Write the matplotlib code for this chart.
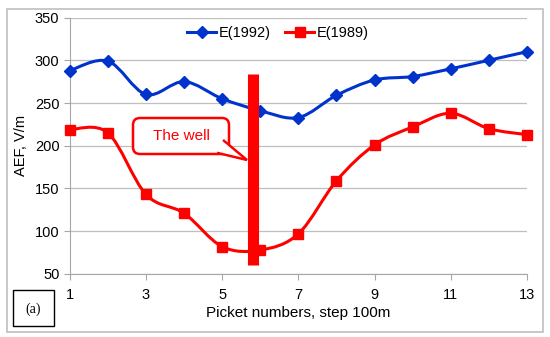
import numpy as np
import matplotlib
matplotlib.use("Agg")
import matplotlib.pyplot as plt
from matplotlib.path import Path
from matplotlib.patches import PathPatch, FancyBboxPatch, Rectangle, Polygon
from matplotlib.lines import Line2D

plt.rcParams['font.family'] = ['Liberation Sans', 'DejaVu Sans']

pickets = [1, 2, 3, 4, 5, 6, 7, 8, 9, 10, 11, 12, 13]
e_1992 = [288, 299, 260, 275, 255, 241, 233, 259, 277, 281, 290, 300, 310]
e_1989 = [219, 215, 143, 121, 82, 78, 97, 159, 201, 222, 238, 220, 213]
well_x = 5.8
well_range = (60, 284)
blue = '#0033cc'
red = '#ff0000'


def smooth_path(xs, ys):
    # excel-style smoothed line: catmull-rom -> cubic bezier
    p = np.column_stack([xs, ys]).astype(float)
    verts = [p[0]]
    codes = [Path.MOVETO]
    n = len(p)
    for i in range(n - 1):
        p0 = p[i - 1] if i > 0 else p[i]
        p3 = p[i + 2] if i + 2 < n else p[i + 1]
        c1 = p[i] + (p[i + 1] - p0) / 6
        c2 = p[i + 1] - (p3 - p[i]) / 6
        verts += [c1, c2, p[i + 1]]
        codes += [Path.CURVE4] * 3
    return Path(verts, codes)


fig = plt.figure(figsize=(5.5, 3.37), dpi=100)
fig.patches.append(Rectangle((7 / 550, 1 - 332 / 337), 536 / 550, 323 / 337,
                             transform=fig.transFigure, fill=False,
                             ec='#bfbfbf', lw=1.2))
ax = fig.add_axes([0.127, 0.187, 0.831, 0.761])
ax.set_xlim(1, 13)
ax.set_ylim(50, 350)
ax.set_xticks([1, 3, 5, 7, 9, 11, 13])
ax.set_yticks(range(50, 351, 50))
ax.yaxis.grid(True, color='#bfbfbf', lw=0.9)
ax.set_axisbelow(True)
for s in ['top', 'right']:
    ax.spines[s].set_visible(False)
for s in ['left', 'bottom']:
    ax.spines[s].set_color('#a6a6a6')
ax.tick_params(axis='both', colors='#a6a6a6', labelcolor='black',
               labelsize=10.5, length=4)
ax.tick_params(axis='x', pad=6)
ax.set_xlabel('Picket numbers, step 100m', fontsize=11, labelpad=3)
ax.set_ylabel('AEF, V/m', fontsize=10.5, labelpad=5)

ax.add_patch(PathPatch(smooth_path(pickets, e_1992), fill=False, ec=blue,
                       lw=2.2, zorder=3))
ax.plot(pickets, e_1992, ls='none', marker='D', ms=6, color=blue, zorder=4,
        clip_on=False)
ax.add_patch(PathPatch(smooth_path(pickets, e_1989), fill=False, ec=red,
                       lw=2.2, zorder=3))
ax.plot(pickets, e_1989, ls='none', marker='s', ms=6.5, color=red, zorder=4,
        clip_on=False)

# the well bar
ax.plot([well_x, well_x], well_range, color=red, lw=8, solid_capstyle='butt',
        zorder=5, clip_on=False)

# legend
handles = [Line2D([], [], color=blue, lw=2.2, marker='D', ms=6),
           Line2D([], [], color=red, lw=2.2, marker='s', ms=6.5)]
ax.legend(handles, ['E(1992)', 'E(1989)'], loc='upper center',
          bbox_to_anchor=(0.455, 1.0), ncol=2, frameon=False, fontsize=10.5,
          handlelength=2.0, handletextpad=0.15, columnspacing=1.0,
          borderaxespad=0.2)

# callout "The well" in pixel coordinates
bx0, by0, bx1, by1 = 133, 337 - 154, 229, 337 - 118
tip = (247, 337 - 160)
box = FancyBboxPatch((bx0, by0), bx1 - bx0, by1 - by0,
                     boxstyle='round,pad=0,rounding_size=7', transform=None,
                     fc='white', ec=red, lw=1.8, zorder=6)
fig.patches.append(box)
tail = Polygon([(bx1 - 6, by0 + 14), tip, (bx1 - 12, by0 + 1.2)],
               closed=False, transform=None, fc='white', ec=red, lw=1.8,
               zorder=7)
fig.patches.append(tail)
fig.patches.append(Polygon([(bx1 - 7.5, by0 + 13), (bx1 - 11, by0 + 2),
                            (bx1 - 1, by0 + 8)], transform=None, fc='white',
                           ec='none', zorder=8))
fig.text((bx0 + bx1) / 2 / 550, (by0 + by1) / 2 / 337, 'The well',
         color=red, fontsize=11, ha='center', va='center', zorder=9)

# (a) label
fig.patches.append(Rectangle((13 / 550, 1 - 326 / 337), 41 / 550, 36 / 337,
                             transform=fig.transFigure, fill=False,
                             ec='black', lw=1))
fig.text(33.5 / 550, 1 - 309 / 337, '(a)', family='Liberation Serif',
         fontsize=10, ha='center', va='center')

fig.savefig('out.png', dpi=100)
